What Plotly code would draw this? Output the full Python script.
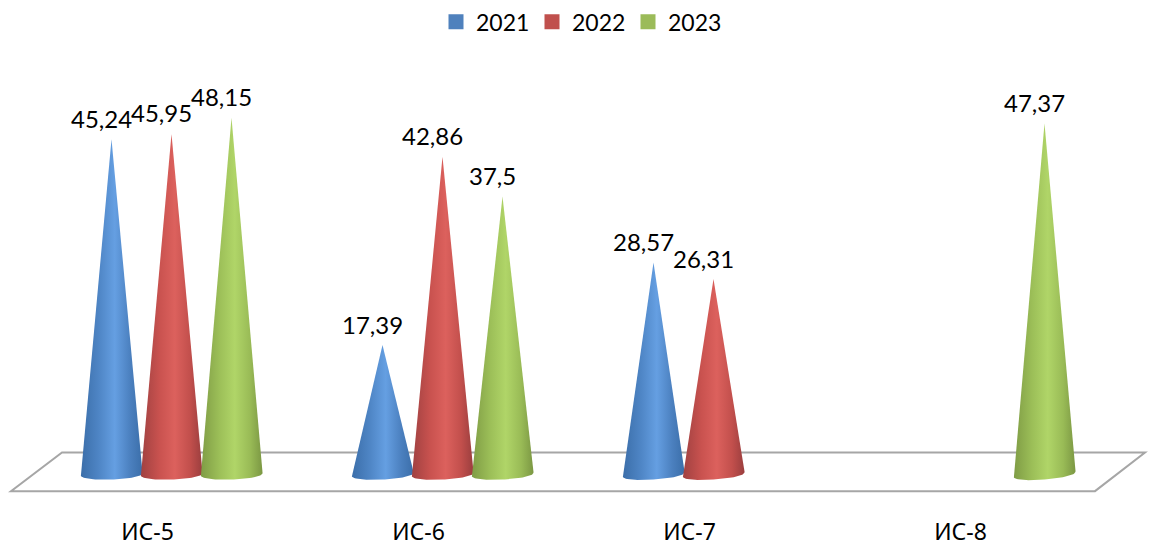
import math
import plotly.graph_objects as go

categories = ["ИС-5", "ИС-6", "ИС-7", "ИС-8"]
years = ["2021", "2022", "2023"]
v2021 = [45.24, 17.39, 28.57, None]
v2022 = [45.95, 42.86, 26.31, None]
v2023 = [48.15, 37.5, None, 47.37]
labels2021 = ["45,24", "17,39", "28,57", None]
labels2022 = ["45,95", "42,86", "26,31", None]
labels2023 = ["48,15", "37,5", None, "47,37"]

W, H = 1155, 550
M_B = 40
PX_PER_X = 271.0
X0_PX = 171.5
PX_PER_Y = 7.45
Y0_PX = 473.3
FONT = "Lato"
CAT_FONT = "Noto Sans"

series = [
    (years[0], v2021, labels2021, -60 / PX_PER_X, "#4f81bd",
     [[0, "#3b6ea9"], [0.3, "#4f86c6"], [0.55, "#659fe2"], [0.8, "#4b80bf"], [1, "#3b6ea9"]]),
    (years[1], v2022, labels2022, 0.0, "#c0504d",
     [[0, "#a04141"], [0.3, "#c9524f"], [0.55, "#dc615d"], [0.8, "#c24f4c"], [1, "#9a3e3e"]]),
    (years[2], v2023, labels2023, 60 / PX_PER_X, "#9bbb59",
     [[0, "#7f9c45"], [0.3, "#9cbf58"], [0.55, "#b0d568"], [0.8, "#99bb56"], [1, "#7b9743"]]),
]

HALF_W = 31 / PX_PER_X
ELL = 6 / PX_PER_Y


def cone(cx, value, group):
    tilt = (1 + 0.5 * group) / PX_PER_Y
    xs, ys = [cx], [value]
    for i in range(41):
        th = math.pi * i / 40
        c = math.cos(th)
        xs.append(cx - HALF_W * c)
        ys.append(-ELL * math.sin(th) ** 0.75 - tilt * c)
    xs.append(cx)
    ys.append(value)
    return xs, ys


fig = go.Figure()
annotations = []
for name, vals, labs, off, col, scale in series:
    for g, (v, lab) in enumerate(zip(vals, labs)):
        if v is None:
            continue
        xs, ys = cone(g + off, v, g)
        fig.add_trace(go.Scatter(
            x=xs, y=ys, mode="lines", fill="toself",
            fillgradient=dict(type="horizontal", colorscale=scale),
            line=dict(width=0), hoverinfo="skip", showlegend=False))
        annotations.append(dict(
            x=g + off, y=v, xref="x", yref="y", text=lab, showarrow=False,
            xshift=-10, yshift=21, font=dict(family=FONT, size=24, color="#000000")))
    fig.add_trace(go.Scatter(
        x=[None], y=[None], mode="markers", name=name,
        marker=dict(symbol="square", size=15, color=col)))


def px(x, y):
    return x / W, 1 - y / (H - M_B)


floor = [(62, 452), (1145, 452), (1095, 491), (11, 491)]
path = "M " + " L ".join("%.5f,%.5f" % px(*p) for p in floor) + " Z"

fig.update_layout(
    width=W, height=H,
    margin=dict(l=0, r=0, t=0, b=M_B, pad=0),
    paper_bgcolor="#ffffff", plot_bgcolor="#ffffff",
    showlegend=True,
    legend=dict(orientation="h", xanchor="left", yanchor="middle",
                x=436 / W, y=1 - 18 / (H - M_B), bgcolor="rgba(0,0,0,0)",
                font=dict(family=FONT, size=23, color="#000000"),
                itemsizing="trace", entrywidth=51, entrywidthmode="pixels",
                traceorder="normal"),
    xaxis=dict(range=[-X0_PX / PX_PER_X, (W - X0_PX) / PX_PER_X],
               tickvals=[i - 24 / PX_PER_X for i in range(len(categories))],
               ticktext=categories, showgrid=False, zeroline=False, showline=False,
               ticks="", ticklabelstandoff=6,
               tickfont=dict(family=CAT_FONT, size=23, color="#000000"),
               fixedrange=True),
    yaxis=dict(range=[(Y0_PX - (H - M_B)) / PX_PER_Y, Y0_PX / PX_PER_Y],
               visible=False, fixedrange=True),
    shapes=[dict(type="path", path=path, xref="paper", yref="paper",
                 line=dict(color="#a6a6a6", width=2), fillcolor="#ffffff", layer="below")],
    annotations=annotations,
)

fig.write_html("out.html", config={"displayModeBar": False},
               post_script="document.body.style.margin='0';")
